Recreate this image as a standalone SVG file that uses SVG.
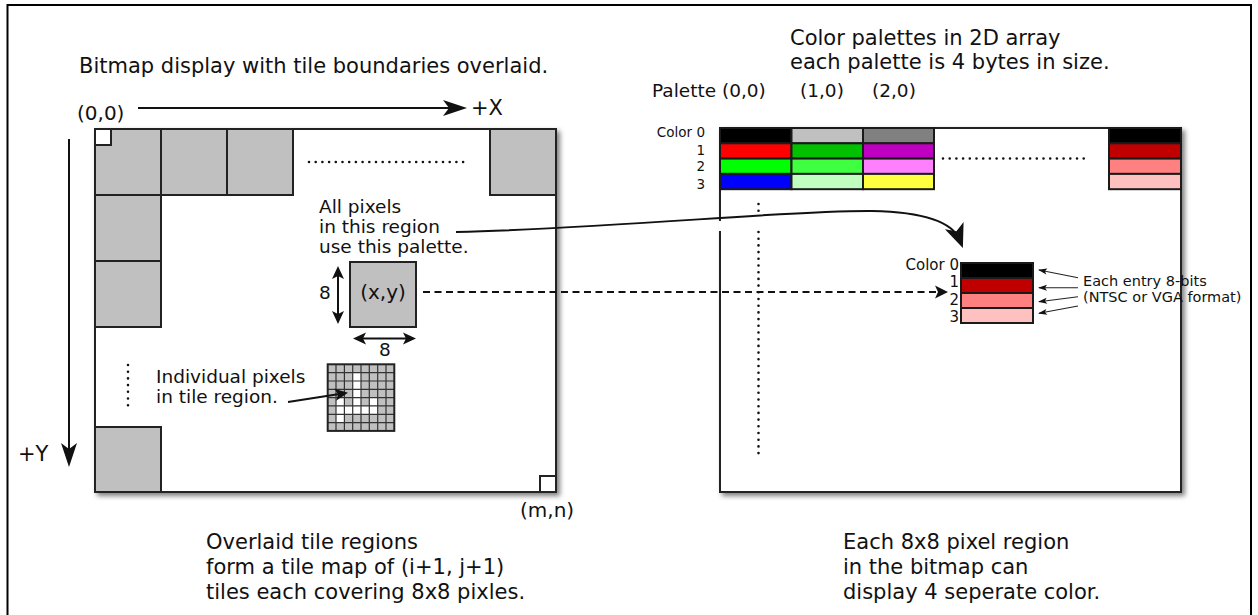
<svg xmlns="http://www.w3.org/2000/svg" width="1258" height="615" viewBox="0 0 1258 615">
  <defs>
    <style>
      text { font-family: "DejaVu Sans", Verdana, sans-serif; fill: #111; }
      .t21 { font-size: 21px; }
      .t20 { font-size: 20px; }
      .t18 { font-size: 18.5px; }
      .t15 { font-size: 15px; }
      .t14 { font-size: 14.5px; }
      .t13 { font-size: 13.5px; }
      .end { text-anchor: end; }
      .mid { text-anchor: middle; }
      .box { fill: #fff; stroke: #222; stroke-width: 2; }
      .tile { fill: #c0c0c0; stroke: #222; stroke-width: 2; }
      .cell { stroke: #1a1a1a; stroke-width: 2; }
      .dots { fill: none; stroke: #111; stroke-width: 2.6; stroke-linecap: round; stroke-dasharray: 0 6.7; }
      .line { fill: none; stroke: #111; stroke-width: 2; }
      .thin { fill: none; stroke: #222; stroke-width: 1.1; }
      .head { fill: #111; }
    </style>
    <filter id="drop" x="-5%" y="-5%" width="112%" height="112%">
      <feDropShadow dx="3" dy="3" stdDeviation="2.5" flood-color="#000" flood-opacity="0.5"/>
    </filter>
    <marker id="bigHead" markerUnits="userSpaceOnUse" markerWidth="26" markerHeight="18" refX="15" refY="8" orient="auto" overflow="visible">
      <path class="head" d="M0,0 L24,8 L0,16 L6,8 Z"/>
    </marker>
    <marker id="curveHead" markerUnits="userSpaceOnUse" markerWidth="26" markerHeight="22" refX="16" refY="10" orient="auto" overflow="visible">
      <path class="head" d="M0,0 L24,10 L0,20 L6,10 Z"/>
    </marker>
    <marker id="dashHead" markerUnits="userSpaceOnUse" markerWidth="14" markerHeight="14" refX="5" refY="6.5" orient="auto" overflow="visible">
      <path class="head" d="M0,0 L13,6.5 L0,13 L3,6.5 Z"/>
    </marker>
    <marker id="midHead" markerUnits="userSpaceOnUse" markerWidth="14" markerHeight="13" refX="6" refY="6" orient="auto-start-reverse" overflow="visible">
      <path class="head" d="M0,0 L13,6 L0,12 L3,6 Z"/>
    </marker>
    <marker id="smallHead" markerUnits="userSpaceOnUse" markerWidth="10" markerHeight="7" refX="8" refY="3" orient="auto" overflow="visible">
      <path class="head" d="M0,0 L9,3 L0,6 L2,3 Z"/>
    </marker>
  </defs>

  <rect width="1258" height="615" fill="#fff"/>
  <!-- outer frame -->
  <rect id="frame" x="7.5" y="5" width="1243.5" height="640" fill="none" stroke="#000" stroke-width="2"/>

  <!-- bitmap display with overlaid tiles -->
  <g id="bitmap">
    <rect class="box" x="95" y="129" width="461" height="363" filter="url(#drop)"/>
    <rect class="tile" x="95" y="129" width="66" height="66"/>
    <rect class="tile" x="161" y="129" width="66" height="66"/>
    <rect class="tile" x="227" y="129" width="66" height="66"/>
    <rect class="tile" x="490" y="129" width="66" height="66"/>
    <rect class="tile" x="95" y="195" width="66" height="66"/>
    <rect class="tile" x="95" y="261" width="66" height="66"/>
    <rect class="tile" x="95" y="427" width="66" height="65"/>
    <rect x="95" y="129" width="16" height="16" fill="#fff" stroke="#222" stroke-width="2"/>
    <rect x="540" y="476" width="16" height="16" fill="#fff" stroke="#222" stroke-width="2"/>
    <path class="dots" d="M309,162 H469"/>
    <path class="dots" d="M128,365 V411"/>
  </g>

  <!-- one tile (x,y) -->
  <g id="tile-xy">
    <rect class="tile" x="350" y="262" width="66" height="65"/>
    <text class="t20 mid" x="383" y="299">(x,y)</text>
    <text class="t18" x="319" y="299">8</text>
    <text class="t18 mid" x="385" y="356">8</text>
  </g>

  <!-- pixel grid of one tile -->
  <g id="pixel-grid">
    <rect x="327.7" y="364.3" width="66.6" height="66.6" fill="#c0c0c0"/>
    <g fill="#fff">
      <rect x="352.7" y="372.6" width="8.33" height="8.33"/>
      <rect x="352.7" y="381.0" width="8.33" height="8.33"/>
      <rect x="352.7" y="389.3" width="8.33" height="8.33"/>
      <rect x="336.0" y="397.6" width="8.33" height="8.33"/>
      <rect x="352.7" y="397.6" width="8.33" height="8.33"/>
      <rect x="369.3" y="397.6" width="8.33" height="8.33"/>
      <rect x="336.0" y="405.9" width="8.33" height="8.33"/>
      <rect x="344.4" y="405.9" width="8.33" height="8.33"/>
      <rect x="352.7" y="405.9" width="8.33" height="8.33"/>
      <rect x="361.0" y="405.9" width="8.33" height="8.33"/>
      <rect x="369.3" y="405.9" width="8.33" height="8.33"/>
      <rect x="336.0" y="414.3" width="8.33" height="8.33"/>
    </g>
    <path fill="none" stroke="#333" stroke-width="1.2" d="M336.0,364.3 V430.9 M344.4,364.3 V430.9 M352.7,364.3 V430.9 M361.0,364.3 V430.9 M369.3,364.3 V430.9 M377.7,364.3 V430.9 M386.0,364.3 V430.9 M327.7,372.6 H394.3 M327.7,381.0 H394.3 M327.7,389.3 H394.3 M327.7,397.6 H394.3 M327.7,405.9 H394.3 M327.7,414.3 H394.3 M327.7,422.6 H394.3"/>
    <rect x="327.7" y="364.3" width="66.6" height="66.6" fill="none" stroke="#222" stroke-width="2"/>
  </g>

  <!-- palette array -->
  <g id="palette-array">
    <rect class="box" x="720" y="128" width="461" height="364" filter="url(#drop)"/>
    <rect class="cell" x="720" y="128" width="71.5" height="15.3" fill="#000"/>
    <rect class="cell" x="720" y="143.3" width="71.5" height="15.3" fill="#ff0000"/>
    <rect class="cell" x="720" y="158.6" width="71.5" height="15.3" fill="#00ff00"/>
    <rect class="cell" x="720" y="173.9" width="71.5" height="15.3" fill="#0000ff"/>
    <rect class="cell" x="791.5" y="128" width="71.5" height="15.3" fill="#c0c0c0"/>
    <rect class="cell" x="791.5" y="143.3" width="71.5" height="15.3" fill="#00c000"/>
    <rect class="cell" x="791.5" y="158.6" width="71.5" height="15.3" fill="#40ff40"/>
    <rect class="cell" x="791.5" y="173.9" width="71.5" height="15.3" fill="#c0ffc0"/>
    <rect class="cell" x="863" y="128" width="71" height="15.3" fill="#808080"/>
    <rect class="cell" x="863" y="143.3" width="71" height="15.3" fill="#c000c0"/>
    <rect class="cell" x="863" y="158.6" width="71" height="15.3" fill="#ff80ff"/>
    <rect class="cell" x="863" y="173.9" width="71" height="15.3" fill="#ffff40"/>
    <rect class="cell" x="1109" y="128" width="72" height="15.3" fill="#000"/>
    <rect class="cell" x="1109" y="143.3" width="72" height="15.3" fill="#c00000"/>
    <rect class="cell" x="1109" y="158.6" width="72" height="15.3" fill="#ff8080"/>
    <rect class="cell" x="1109" y="173.9" width="72" height="15.3" fill="#ffc0c0"/>
    <path class="dots" d="M943,158.5 H1089"/>
    <!-- gap where the curved connector crosses -->
    <rect x="718.5" y="221" width="3" height="10" fill="#fff"/>
    <path class="dots" d="M758.5,204 V211 M758.5,232 V454"/>
    <text class="t13 end" x="705" y="137">Color 0</text>
    <text class="t13 end" x="705" y="155">1</text>
    <text class="t13 end" x="705" y="171">2</text>
    <text class="t13 end" x="705" y="189">3</text>
  </g>

  <!-- single palette, enlarged -->
  <g id="palette-detail">
    <rect class="cell" x="961" y="263" width="72" height="15" fill="#000"/>
    <rect class="cell" x="961" y="278" width="72" height="15" fill="#c00000"/>
    <rect class="cell" x="961" y="293" width="72" height="15" fill="#ff8080"/>
    <rect class="cell" x="961" y="308" width="72" height="15" fill="#ffc0c0"/>
    <text class="t15 end" x="959" y="270">Color 0</text>
    <text class="t15 end" x="959" y="287">1</text>
    <text class="t15 end" x="959" y="305">2</text>
    <text class="t15 end" x="959" y="322">3</text>
    <text class="t14" x="1083" y="285.5">Each entry 8-bits</text>
    <text class="t14" x="1083" y="302">(NTSC or VGA format)</text>
  </g>

  <!-- captions -->
  <g id="captions">
    <text class="t21" x="79" y="73">Bitmap display with tile boundaries overlaid.</text>
    <text class="t20" x="77" y="120">(0,0)</text>
    <text class="t21" x="471" y="115">+X</text>
    <text class="t21" x="18" y="461">+Y</text>
    <text class="t20" x="520" y="517">(m,n)</text>
    <text class="t18" x="319" y="213">All pixels</text>
    <text class="t18" x="319" y="233">in this region</text>
    <text class="t18" x="319" y="253">use this palette.</text>
    <text class="t18" x="156" y="383">Individual pixels</text>
    <text class="t18" x="156" y="403">in tile region.</text>
    <text class="t21" x="206" y="549">Overlaid tile regions</text>
    <text class="t21" x="206" y="574">form a tile map of (i+1, j+1)</text>
    <text class="t21" x="206" y="599">tiles each covering 8x8 pixles.</text>
    <text class="t21" x="790" y="45">Color palettes in 2D array</text>
    <text class="t21" x="790" y="69">each palette is 4 bytes in size.</text>
    <text class="t18" x="652" y="97">Palette (0,0)</text>
    <text class="t18" x="800" y="97">(1,0)</text>
    <text class="t18" x="872" y="97">(2,0)</text>
    <text class="t21" x="843" y="549">Each 8x8 pixel region</text>
    <text class="t21" x="843" y="574">in the bitmap can</text>
    <text class="t21" x="843" y="599">display 4 seperate color.</text>
  </g>

  <!-- arrows and connectors -->
  <g id="connectors">
    <path class="line" d="M138,108 H458" marker-end="url(#bigHead)"/>
    <path class="line" d="M69,139 V458" marker-end="url(#bigHead)"/>
    <path class="line" d="M338,273 V317" marker-start="url(#midHead)" marker-end="url(#midHead)"/>
    <path class="line" d="M360,338.5 H409" marker-start="url(#midHead)" marker-end="url(#midHead)"/>
    <path class="line" d="M288,402 L341.1,393.8" marker-end="url(#midHead)"/>
    <path class="line" d="M423,292 H940" stroke-dasharray="7 4.5" marker-end="url(#dashHead)"/>
    <path class="line" stroke-width="2.5" d="M456,232 C620,228 790,210 872,211 C930,212 954,225 960,240.6" marker-end="url(#curveHead)"/>
    <path class="thin" d="M1078,277.7 L1039,270" marker-end="url(#smallHead)"/>
    <path class="thin" d="M1078,287.7 L1039,287.7" marker-end="url(#smallHead)"/>
    <path class="thin" d="M1078,296.7 L1039,301.7" marker-end="url(#smallHead)"/>
    <path class="thin" d="M1078,306 L1039,313.3" marker-end="url(#smallHead)"/>
  </g>
</svg>
